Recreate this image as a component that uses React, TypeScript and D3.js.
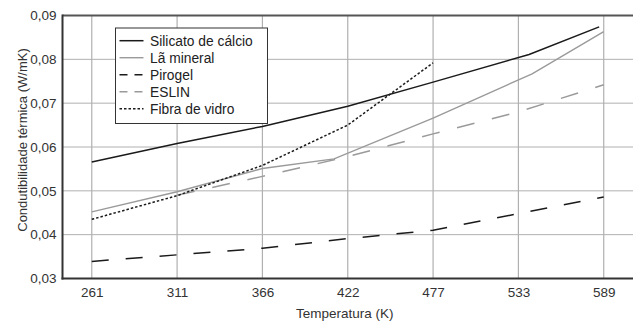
import { useEffect, useRef } from "react";
import * as d3 from "d3";

// tick labels (K) — spaced evenly on the axis
const tempTicks = [261, 311, 366, 422, 477, 533, 589];
const condTicks = [0.03, 0.04, 0.05, 0.06, 0.07, 0.08, 0.09];

// series: temperature (K) and conductivity (W/mK)
const silicatoT = [261, 311, 366, 422, 477, 540, 586];
const silicatoK = [0.0566, 0.0608, 0.0647, 0.0693, 0.0748, 0.0811, 0.0874];
const laMineralT = [261, 311, 366, 413, 477, 542, 589];
const laMineralK = [0.0452, 0.0498, 0.0551, 0.0573, 0.0666, 0.0767, 0.0863];
const pirogelT = [261, 311, 366, 422, 477, 533, 589];
const pirogelK = [0.0339, 0.0354, 0.0369, 0.0391, 0.041, 0.0448, 0.0486];
const eslinT = [311, 366, 422, 477, 533, 589];
const eslinK = [0.049, 0.0533, 0.0578, 0.063, 0.068, 0.0742];
const fibraT = [261, 311, 366, 422, 477];
const fibraK = [0.0435, 0.0489, 0.0558, 0.065, 0.0792];

const FONT = "'Liberation Sans', Arial, Helvetica, sans-serif";

interface Series
{
    label: string;
    t: number[];
    k: number[];
    color: string;
    width: number;
    dash: string | null;
    legendDash: string | null;
}

const series: Series[] = [
    { label: "Silicato de cálcio", t: silicatoT, k: silicatoK, color: "#1a1a1a", width: 1.5, dash: null, legendDash: null },
    { label: "Lã mineral", t: laMineralT, k: laMineralK, color: "#9a9a9a", width: 1.4, dash: null, legendDash: null },
    { label: "Pirogel", t: pirogelT, k: pirogelK, color: "#1a1a1a", width: 1.5, dash: "17,17", legendDash: "8,7" },
    { label: "ESLIN", t: eslinT, k: eslinK, color: "#9a9a9a", width: 1.5, dash: "18,18", legendDash: "8,7" },
    { label: "Fibra de vidro", t: fibraT, k: fibraK, color: "#1a1a1a", width: 1.5, dash: "2.5,2", legendDash: "2.5,2" },
];

export default function App ()
{
    const svgRef = useRef<SVGSVGElement>( null );

    useEffect( () =>
    {
        if ( !svgRef.current ) return;
        const W = 633, H = 321;
        const m = { top: 15.5, right: 0, bottom: 42.5, left: 62.5 };
        const svg = d3.select( svgRef.current );
        svg.selectAll( "*" ).remove();
        svg.attr( "width", W ).attr( "height", H );

        const pos = d3.scalePoint<number>().domain( tempTicks ).range( [ m.left, W - m.right ] ).padding( 0.343 );
        const x = d3.scaleLinear().domain( tempTicks ).range( tempTicks.map( ( t ) => pos( t )! ) );
        const y = d3.scaleLinear().domain( [ 0.03, 0.09 ] ).range( [ H - m.bottom, m.top ] );

        // Grid
        svg.append( "g" ).selectAll( "line" ).data( condTicks.slice( 1, -1 ) ).join( "line" )
            .attr( "x1", m.left ).attr( "x2", W ).attr( "y1", ( d ) => y( d ) ).attr( "y2", ( d ) => y( d ) )
            .attr( "stroke", "#b0b0b0" ).attr( "stroke-width", 1 );
        svg.append( "g" ).selectAll( "line" ).data( tempTicks ).join( "line" )
            .attr( "x1", ( d ) => x( d ) ).attr( "x2", ( d ) => x( d ) ).attr( "y1", m.top ).attr( "y2", H - m.bottom )
            .attr( "stroke", "#b0b0b0" ).attr( "stroke-width", 1.2 );

        // Frame (top)
        svg.append( "line" ).attr( "x1", m.left ).attr( "x2", W ).attr( "y1", m.top ).attr( "y2", m.top )
            .attr( "stroke", "#555" ).attr( "stroke-width", 2 );

        // Lines
        const lineGen = d3.line<[ number, number ]>().x( ( d ) => x( d[ 0 ] ) ).y( ( d ) => y( d[ 1 ] ) );
        series.forEach( ( s ) =>
        {
            const pts = s.t.map( ( t, i ) => [ t, s.k[ i ] ] as [ number, number ] );
            svg.append( "path" ).attr( "d", lineGen( pts ) ).attr( "fill", "none" )
                .attr( "stroke", s.color ).attr( "stroke-width", s.width )
                .attr( "stroke-dasharray", s.dash ?? null );
        } );

        // Axes
        svg.append( "g" ).attr( "transform", `translate(0,${ H - m.bottom })` )
            .call( d3.axisBottom( x ).tickValues( tempTicks ).tickSize( 0 ).tickPadding( 9 ).tickFormat( d3.format( "d" ) ) )
            .call( ( g ) => g.select( ".domain" ).attr( "stroke", "#333" ).attr( "stroke-width", 2 ).attr( "d", `M${ m.left - 1 },0H${ W }` ) )
            .selectAll( "text" ).attr( "fill", "#333" ).style( "font-size", "13.5px" ).style( "font-family", FONT );

        svg.append( "g" ).attr( "transform", `translate(${ m.left },0)` )
            .call( d3.axisLeft( y ).tickValues( condTicks ).tickSize( 0 ).tickPadding( 6 ).tickFormat( ( d ) => d3.format( ".2f" )( d as number ).replace( ".", "," ) ) )
            .call( ( g ) => g.select( ".domain" ).attr( "stroke", "#333" ).attr( "stroke-width", 2 ).attr( "d", `M0,${ m.top - 1 }V${ H - m.bottom + 1 }` ) )
            .selectAll( "text" ).attr( "fill", "#333" ).style( "font-size", "13.5px" ).style( "font-family", FONT );

        // Axis titles
        svg.append( "text" ).attr( "x", ( m.left + W ) / 2 - 3 ).attr( "y", 318 ).attr( "text-anchor", "middle" )
            .attr( "fill", "#333" ).style( "font-size", "13.5px" ).style( "font-family", FONT )
            .text( "Temperatura (K)" );
        svg.append( "text" ).attr( "transform", "rotate(-90)" ).attr( "x", -140 ).attr( "y", 27 ).attr( "text-anchor", "middle" )
            .attr( "fill", "#333" ).style( "font-size", "13px" ).style( "font-family", FONT )
            .text( "Condutibilidade térmica (W/mK)" );

        // Legend
        const legend = svg.append( "g" ).attr( "transform", "translate(115.5, 28)" );
        legend.append( "rect" ).attr( "width", 152 ).attr( "height", 95.5 ).attr( "fill", "#fff" )
            .attr( "stroke", "#333" ).attr( "stroke-width", 1 );
        series.forEach( ( s, i ) =>
        {
            const cy = 12.7 + i * 17;
            legend.append( "line" ).attr( "x1", 4 ).attr( "x2", 28 ).attr( "y1", cy ).attr( "y2", cy )
                .attr( "stroke", s.color ).attr( "stroke-width", s.width ).attr( "stroke-dasharray", s.legendDash ?? null );
            legend.append( "text" ).attr( "x", 34.5 ).attr( "y", cy + 4.8 )
                .attr( "fill", "#222" ).style( "font-size", "13.8px" ).style( "font-family", FONT )
                .text( s.label );
        } );
    }, [] );

    return (
        <svg ref={ svgRef } style={ { position: "absolute", left: 0, top: 0, background: "#fff" } } />
    );
}
